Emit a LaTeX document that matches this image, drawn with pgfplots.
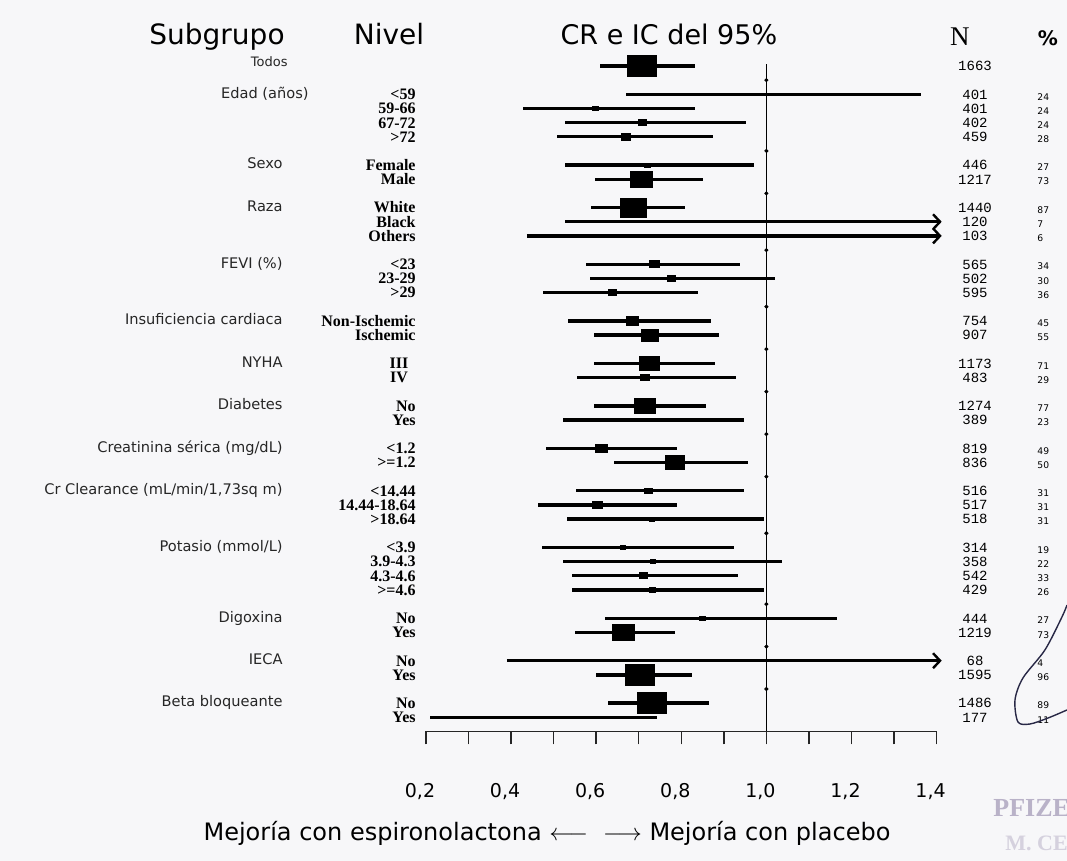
\documentclass[border=0pt]{standalone}
\usepackage{fontspec}
\usepackage{pgfplots}
\pgfplotsset{compat=1.18}
\usepackage{pgfplotstable}
\usetikzlibrary{arrows.meta,backgrounds}
\setmainfont{Liberation Serif}
\newfontfamily\hand{DejaVu Sans}
\newfontfamily\monof{Liberation Mono}
\definecolor{bg}{RGB}{247,247,249}
\definecolor{stamp}{RGB}{185,178,200}

\pgfplotstableread{
k hr lo hi s
0 0.708 0.608 0.832 7.25
2 0.950 0.669 1.363 0.6
3 0.599 0.429 0.832 1.5
4 0.708 0.527 0.952 2.0
5 0.670 0.507 0.874 2.25
7 0.720 0.527 0.971 1.5
8 0.707 0.597 0.852 5.5
10 0.687 0.587 0.809 6.5
14 0.736 0.577 0.938 2.5
15 0.777 0.585 1.020 2.0
16 0.637 0.475 0.840 2.0
18 0.685 0.534 0.870 3.0
19 0.726 0.596 0.888 4.25
21 0.725 0.596 0.879 5.0
22 0.714 0.554 0.928 2.25
24 0.714 0.596 0.858 5.25
25 0.704 0.523 0.948 1.25
27 0.613 0.483 0.789 3.0
28 0.784 0.643 0.956 4.75
30 0.722 0.553 0.948 2.0
31 0.603 0.463 0.789 2.5
32 0.732 0.531 0.995 1.25
34 0.663 0.472 0.925 1.25
35 0.734 0.522 1.036 1.25
36 0.712 0.542 0.934 2.0
37 0.733 0.542 0.994 1.5
39 0.850 0.620 1.165 1.5
40 0.663 0.550 0.785 5.5
43 0.702 0.600 0.824 7.25
45 0.730 0.627 0.864 7.25
46 0.420 0.210 0.744 0.6
}\ci

\tikzset{
 sub/.style={anchor=east, inner sep=0pt, text height=5.2pt, text depth=1.4pt, font=\hand\fontsize{7.3}{8}\selectfont, black!85},
 lev/.style={anchor=east, inner sep=0pt, text height=5.4pt, text depth=0pt, font=\bfseries\fontsize{8}{9}\selectfont},
 nn/.style={anchor=center, inner sep=0pt, text height=4.8pt, text depth=0pt, font=\monof\fontsize{7}{8}\selectfont},
 pc/.style={anchor=west, inner sep=0pt, text height=3.3pt, text depth=0pt, yshift=-1.2pt, font=\hand\fontsize{4.6}{5}\selectfont},
}
\newcommand\RowLab[4]{%
 \node[lev] at (axis cs:0.1765,-#1) {#2};
 \node[nn] at (axis cs:1.4903,-#1) {#3};
 \node[pc] at (axis cs:1.636,-#1) {#4};}
\newcommand\SubLab[2]{\node[sub] at (axis cs:-0.1361,-#1) {#2};}

\begin{document}
\begin{tikzpicture}
\begin{axis}[
 scale only axis, width=255.3pt, height=333.75pt,
 at={(0,0)}, anchor=south west,
 xmin=0.2, xmax=1.4, ymin=-47, ymax=0.14,
 axis x line*=bottom, axis y line=none,
 xtick={0.2,0.4,0.6,0.8,1.0,1.2,1.4},
 minor xtick={0.3,0.5,0.7,0.9,1.1,1.3},
 xticklabels={{0,2},{0,4},{0,6},{0,8},{1,0},{1,2},{1,4}},
 tick align=outside, major tick length=6.5pt, minor tick length=6.5pt,
 every tick/.style={black!85, line width=0.7pt},
 axis line style={line width=0.8pt, black!85},
 xticklabel style={font=\hand\fontsize{9.5}{10}\selectfont, yshift=-16pt, xshift=-3pt},
 clip=false,
]
% reference line at 1.0
\addplot[black, line width=0.6pt] coordinates {(1,0.14) (1,-47)};
\addplot[only marks, mark=*, mark size=0.8pt, black] coordinates {(1,-1) (1,-6) (1,-9) (1,-13) (1,-17) (1,-20) (1,-23) (1,-26) (1,-29) (1,-33) (1,-38) (1,-41) (1,-44)};
% confidence intervals
\addplot[only marks, mark=*, mark size=0.01pt, black,
 error bars/.cd, x dir=both, x explicit, error mark=none,
 error bar style={draw=black, line width=1.7pt}]
 table[x=hr, y expr=-\thisrow{k}, x error plus expr=\thisrow{hi}-\thisrow{hr}, x error minus expr=\thisrow{hr}-\thisrow{lo}] {\ci};
% open-ended intervals
\addplot[black, line width=1.7pt, -{Straight Barb[length=3.5pt,width=7.5pt,line width=1.2pt]}] coordinates {(0.527,-11) (1.412,-11)};
\addplot[black, line width=1.7pt, -{Straight Barb[length=3.5pt,width=7.5pt,line width=1.2pt]}] coordinates {(0.437,-12) (1.412,-12)};
\addplot[black, line width=1.7pt, -{Straight Barb[length=3.5pt,width=7.5pt,line width=1.2pt]}] coordinates {(0.390,-42) (1.412,-42)};
% boxes
\addplot[scatter, only marks, mark=square*, mark options={yscale=0.72},
 scatter/use mapped color={draw=black, fill=black},
 visualization depends on={\thisrow{s} \as \perpointmarksize},
 scatter/@pre marker code/.append style={/tikz/mark size=\perpointmarksize}]
 table[x=hr, y expr=-\thisrow{k}] {\ci};

% headers
\node[anchor=base, inner sep=0pt, font=\hand\fontsize{14}{16}\selectfont] at (axis cs:-0.2912,1.5) {Subgrupo};
\node[anchor=base, inner sep=0pt, font=\hand\fontsize{14}{16}\selectfont] at (axis cs:0.113,1.5) {Nivel};
\node[anchor=base, inner sep=0pt, font=\hand\fontsize{13.5}{15}\selectfont] at (axis cs:0.771,1.55) {CR e IC del 95\%};
\node[anchor=base, inner sep=0pt, font=\fontsize{13.5}{15}\selectfont] at (axis cs:1.455,1.45) {N};
\node[anchor=base, inner sep=0pt, font=\hand\bfseries\fontsize{10}{11}\selectfont] at (axis cs:1.6618,1.45) {\%};

% subgroup labels
\node[sub, font=\hand\fontsize{6.5}{7}\selectfont] at (axis cs:-0.1243,0.2) {Todos};
\node[sub] at (axis cs:-0.075,-2) {Edad (años)};
\SubLab{7}{Sexo}
\SubLab{10}{Raza}
\SubLab{14}{FEVI (\%)}
\SubLab{18}{Insuficiencia cardiaca}
\SubLab{21}{NYHA}
\SubLab{24}{Diabetes}
\SubLab{27}{Creatinina sérica (mg/dL)}
\SubLab{30}{Cr Clearance (mL/min/1,73sq m)}
\SubLab{34}{Potasio (mmol/L)}
\SubLab{39}{Digoxina}
\SubLab{42}{IECA}
\SubLab{45}{Beta bloqueante}

% level, N and % columns
\node[nn] at (axis cs:1.4903,0) {1663};
\RowLab{2}{<59}{401}{24}
\RowLab{3}{59-66}{401}{24}
\RowLab{4}{67-72}{402}{24}
\RowLab{5}{>72}{459}{28}
\RowLab{7}{Female}{446}{27}
\RowLab{8}{Male}{1217}{73}
\RowLab{10}{White}{1440}{87}
\RowLab{11}{Black}{120}{7}
\RowLab{12}{Others}{103}{6}
\RowLab{14}{<23}{565}{34}
\RowLab{15}{23-29}{502}{30}
\RowLab{16}{>29}{595}{36}
\RowLab{18}{Non-Ischemic}{754}{45}
\RowLab{19}{Ischemic}{907}{55}
\node[nn] at (axis cs:1.4903,-21) {1173};
\node[pc] at (axis cs:1.636,-21) {71};
\node[lev, anchor=center] at (axis cs:0.1365,-21) {III};
\node[nn] at (axis cs:1.4903,-22) {483};
\node[pc] at (axis cs:1.636,-22) {29};
\node[lev, anchor=center] at (axis cs:0.1365,-22) {IV};
\RowLab{24}{No}{1274}{77}
\RowLab{25}{Yes}{389}{23}
\RowLab{27}{<1.2}{819}{49}
\RowLab{28}{>=1.2}{836}{50}
\RowLab{30}{<14.44}{516}{31}
\RowLab{31}{14.44-18.64}{517}{31}
\RowLab{32}{>18.64}{518}{31}
\RowLab{34}{<3.9}{314}{19}
\RowLab{35}{3.9-4.3}{358}{22}
\RowLab{36}{4.3-4.6}{542}{33}
\RowLab{37}{>=4.6}{429}{26}
\RowLab{39}{No}{444}{27}
\RowLab{40}{Yes}{1219}{73}
\RowLab{42}{No}{68}{4}
\RowLab{43}{Yes}{1595}{96}
\RowLab{45}{No}{1486}{89}
\RowLab{46}{Yes}{177}{11}

% bottom caption
\node[inner sep=0pt, font=\hand\fontsize{12}{14}\selectfont] at (axis cs:0.4844,-54.17) {Mejoría con espironolactona $\longleftarrow$ \ $\longrightarrow$ Mejoría con placebo};

% stamp and pen stroke
\node[anchor=west, inner sep=0pt, font=\bfseries\fontsize{13}{14}\selectfont, text=stamp] at (axis cs:1.5326,-52.4) {PFIZER};
\node[anchor=west, inner sep=0pt, font=\bfseries\fontsize{11}{12}\selectfont, text=stamp!60] at (axis cs:1.5607,-54.87) {M. CECA};
\draw[line width=0.7pt, color={rgb,255:red,40;green,40;blue,70}] plot[smooth] coordinates {(axis cs:1.7065,-38.07) (axis cs:1.6947,-38.91) (axis cs:1.6547,-41.24) (axis cs:1.603,-43.22) (axis cs:1.5843,-44.77) (axis cs:1.5913,-46.33) (axis cs:1.6195,-46.47) (axis cs:1.6618,-46.05) (axis cs:1.7065,-45.48)};

\coordinate (BL) at (axis cs:-0.8012,-56.14);
\coordinate (TR) at (axis cs:1.7065,4.661);
\end{axis}
\begin{scope}[on background layer]
\fill[bg] (BL) rectangle (TR);
\end{scope}
\pgfresetboundingbox
\path[use as bounding box] (BL) rectangle (TR);
\end{tikzpicture}
\end{document}
